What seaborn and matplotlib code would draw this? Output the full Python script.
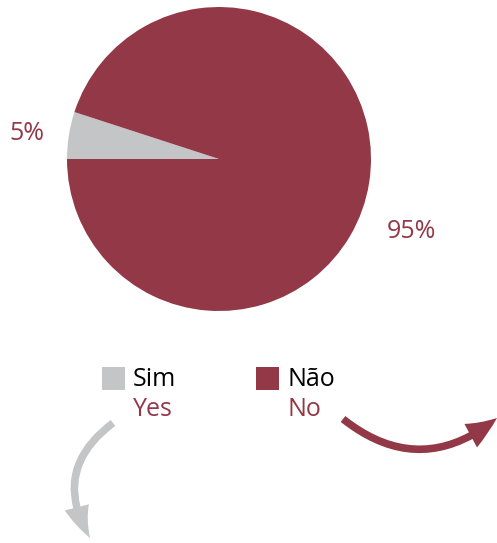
import matplotlib
matplotlib.use("Agg")
import matplotlib.pyplot as plt
from matplotlib.patches import FancyArrowPatch, Rectangle
import seaborn as sns

categories = ["Sim", "Não"]
translations = ["Yes", "No"]
values = [5, 95]
pct_labels = ["5%", "95%"]
colors = ["#c4c5c7", "#933846"]

sns.set_theme(style="white")
plt.rcParams["font.family"] = ["Open Sans", "DejaVu Sans"]

W, H = 497, 543
fig = plt.figure(figsize=(W / 100, H / 100), dpi=100)
palette = sns.color_palette(colors)

# pie axes: center (219,159) radius 152 in pixels
cx, cy, r = 219, 159, 152
ax = fig.add_axes([(cx - r) / W, (H - cy - r) / H, 2 * r / W, 2 * r / H])
ax.pie(values, colors=palette, startangle=180, counterclock=False,
       radius=1.0, wedgeprops=dict(linewidth=0))
ax.set_xlim(-1, 1)
ax.set_ylim(-1, 1)
ax.set_aspect("auto")
ax.axis("off")

def fx(x):
    return x / W

def fy(y):
    return 1 - y / H

maroon = colors[1]
fs = 18
fig.text(fx(27), fy(133), pct_labels[0], color=maroon, fontsize=fs, ha="center", va="center")
fig.text(fx(411), fy(232), pct_labels[1], color=maroon, fontsize=fs, ha="center", va="center")

# legend
sq = 23
for i, (x0, cat, tr) in enumerate(zip([102, 256], categories, translations)):
    fig.patches.append(Rectangle((fx(x0), fy(367 + sq)), sq / W, sq / H,
                                 transform=fig.transFigure, facecolor=palette[i],
                                 edgecolor="none"))
    fig.text(fx(x0 + 31), fy(380), cat, color="black", fontsize=fs, ha="left", va="center")
    fig.text(fx(x0 + 31), fy(409), tr, color=maroon, fontsize=fs, ha="left", va="center")

# arrows
a1 = FancyArrowPatch((fx(113), fy(423)), (fx(90), fy(538)), transform=fig.transFigure,
                     connectionstyle="arc3,rad=0.45",
                     arrowstyle="simple,head_width=1.5,head_length=2.0,tail_width=0.45",
                     mutation_scale=12, color=colors[0], linewidth=0, shrinkA=0, shrinkB=0)
a2 = FancyArrowPatch((fx(343), fy(419)), (fx(497), fy(418)), transform=fig.transFigure,
                     connectionstyle="arc3,rad=0.4",
                     arrowstyle="simple,head_width=1.6,head_length=1.9,tail_width=0.45",
                     mutation_scale=12, color=maroon, linewidth=0, shrinkA=0, shrinkB=0)
fig.patches.extend([a1, a2])

fig.savefig("out.png", dpi=100, facecolor="white")
